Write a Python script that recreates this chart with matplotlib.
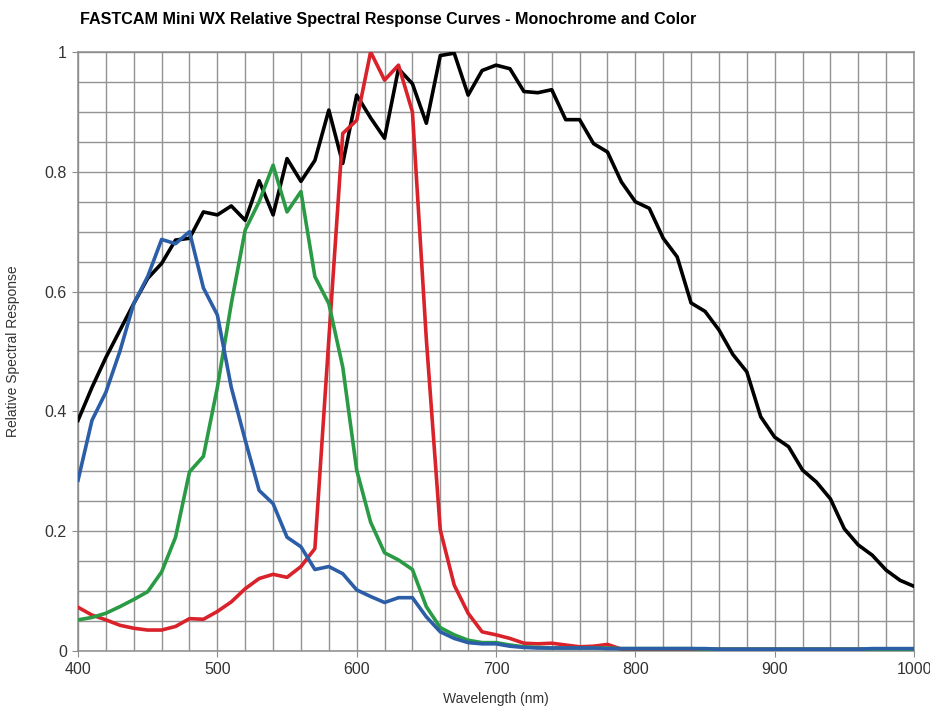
import numpy as np
import matplotlib.pyplot as plt
from matplotlib.ticker import MultipleLocator

# wavelength grid (nm) for the colour curves and the mono curve
wl = np.arange(400, 1001, 10)

mono = [0.385, 0.44, 0.49, 0.535, 0.58, 0.622, 0.647, 0.686, 0.689, 0.733,
        0.728, 0.743, 0.719, 0.785, 0.728, 0.822, 0.784, 0.819, 0.903, 0.814,
        0.928, 0.89, 0.856, 0.972, 0.947, 0.881, 0.994, 0.998, 0.928, 0.969,
        0.978, 0.972, 0.934, 0.932, 0.937, 0.887, 0.887, 0.847, 0.833, 0.783,
        0.75, 0.739, 0.689, 0.658, 0.581, 0.567, 0.536, 0.495, 0.466, 0.391,
        0.357, 0.341, 0.302, 0.282, 0.254, 0.204, 0.177, 0.16, 0.135, 0.118,
        0.108]

blue = [0.285, 0.385, 0.432, 0.50, 0.58, 0.625, 0.687, 0.68, 0.70, 0.606,
        0.561, 0.44, 0.352, 0.268, 0.246, 0.19, 0.174, 0.136, 0.141, 0.129,
        0.102, 0.091, 0.081, 0.089, 0.089, 0.057, 0.032, 0.021, 0.014, 0.012,
        0.012, 0.008, 0.006, 0.005, 0.005, 0.005, 0.005, 0.005, 0.004, 0.004,
        0.004, 0.004, 0.004, 0.004, 0.004, 0.004, 0.003, 0.003, 0.003, 0.003,
        0.003, 0.003, 0.003, 0.003, 0.003, 0.003, 0.003, 0.004, 0.004, 0.004,
        0.004]

green = [0.052, 0.056, 0.063, 0.074, 0.086, 0.099, 0.132, 0.19, 0.299, 0.325,
         0.44, 0.58, 0.703, 0.75, 0.811, 0.733, 0.767, 0.625, 0.58, 0.474,
         0.302, 0.215, 0.164, 0.152, 0.136, 0.074, 0.039, 0.027, 0.018, 0.014,
         0.014, 0.01, 0.007, 0.006, 0.005, 0.005, 0.005, 0.005, 0.005, 0.004,
         0.004, 0.004, 0.004, 0.004, 0.004, 0.003, 0.003, 0.003, 0.003, 0.003,
         0.003, 0.003, 0.003, 0.003, 0.003, 0.003, 0.003, 0.003, 0.003, 0.003,
         0.003]

red = [0.073, 0.06, 0.052, 0.043, 0.038, 0.035, 0.035, 0.041, 0.054, 0.053,
       0.066, 0.082, 0.104, 0.121, 0.128, 0.123, 0.141, 0.171, 0.52, 0.864,
       0.886, 1.0, 0.953, 0.978, 0.9, 0.52, 0.202, 0.11, 0.063, 0.032,
       0.027, 0.021, 0.013, 0.012, 0.013, 0.01, 0.007, 0.008, 0.011, 0.003,
       0.003, 0.003, 0.003, 0.003, 0.003, 0.003, 0.003, 0.003, 0.003, 0.003,
       0.003, 0.003, 0.003, 0.003, 0.003, 0.003, 0.003, 0.003, 0.003, 0.003,
       0.003]

plt.rcParams['font.family'] = ['Liberation Sans', 'DejaVu Sans']

fig = plt.figure(figsize=(9.3, 7.08), dpi=100)
ax = fig.add_axes([0.0839, 0.0805, 0.8989, 0.8461])

ax.plot(wl, mono, color='black', lw=2.6, zorder=3)
ax.plot(wl, red, color='#d9222a', lw=2.6, zorder=4)
ax.plot(wl, green, color='#2a9a45', lw=2.6, zorder=5)
ax.plot(wl, blue, color='#2c5ea8', lw=2.6, zorder=6)

ax.set_xlim(400, 1000)
ax.set_ylim(0, 1)
ax.xaxis.set_major_locator(MultipleLocator(100))
ax.xaxis.set_minor_locator(MultipleLocator(20))
ax.yaxis.set_major_locator(MultipleLocator(0.2))
ax.yaxis.set_minor_locator(MultipleLocator(0.05))
ax.set_yticks([0, 0.2, 0.4, 0.6, 0.8, 1.0])
ax.set_yticklabels(['0', '0.2', '0.4', '0.6', '0.8', '1'])

ax.grid(True, which='both', color='#939393', lw=1.0)
ax.set_axisbelow(True)
for s in ax.spines.values():
    s.set_color('#8c8c8c')
    s.set_linewidth(1.1)

ax.tick_params(which='major', length=4, color='#8c8c8c', labelsize=11.5,
               labelcolor='#333333', pad=4)
ax.tick_params(which='minor', length=0)

ax.set_xlabel('Wavelength (nm)', fontsize=10, color='#333333', labelpad=11)
ax.set_ylabel('Relative Spectral Response', fontsize=10, color='#333333', labelpad=18)

fig.text(0.086, 0.973, 'FASTCAM Mini WX Relative Spectral Response Curves - Monochrome and Color',
         fontsize=11.6, fontweight='bold', ha='left', va='center')

fig.savefig('out.png', dpi=100)
